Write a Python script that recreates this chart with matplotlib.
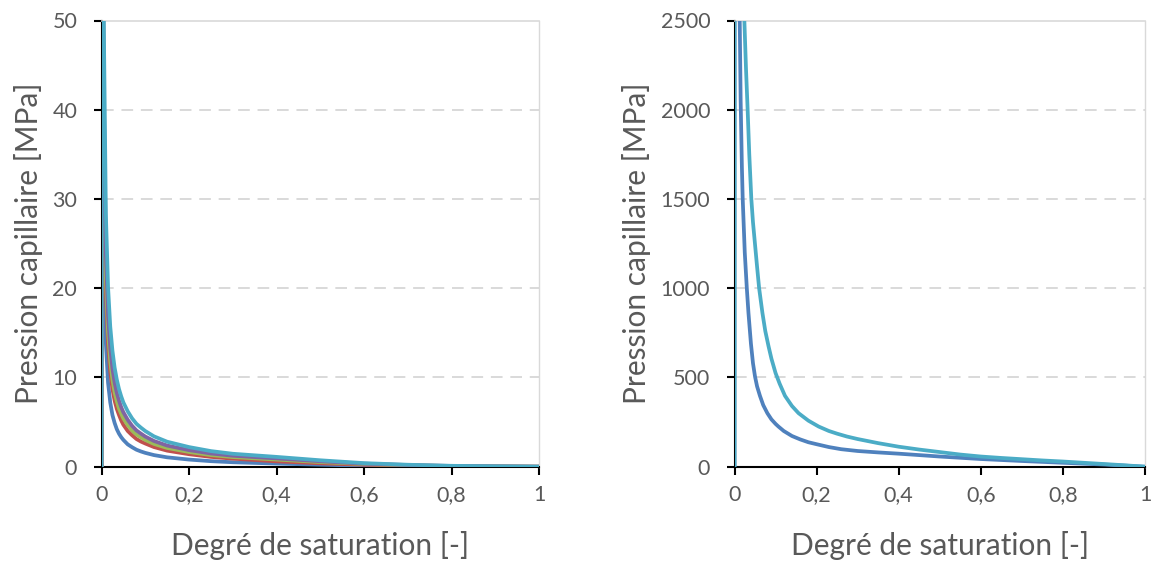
import matplotlib
matplotlib.use("Agg")
import matplotlib.pyplot as plt

plt.rcParams['font.family'] = ['Lato', 'DejaVu Sans']

# ---------------- data ----------------
# Left panel (0-50 MPa)
s_left = [0, 0.001, 0.002, 0.003, 0.005, 0.01, 0.015, 0.02, 0.025, 0.03, 0.035,
          0.04, 0.045, 0.05, 0.06, 0.07, 0.08, 0.09, 0.1, 0.12, 0.15, 0.2, 0.25,
          0.3, 0.4, 0.5, 0.6, 0.7, 0.8, 0.9, 1.0]
pc_left_blue = [0, 123, 63.8, 43.4, 26.7, 13.8, 9.4, 7.2, 5.79, 4.9, 4.2, 3.7,
                3.31, 3.0, 2.5, 2.18, 1.9, 1.71, 1.55, 1.3, 1.05, 0.8, 0.62,
                0.5, 0.35, 0.22, 0.12, 0.06, 0.03, 0.01, 0]
pc_left_red = [0, 148, 80.4, 56.3, 35.9, 19.5, 13.7, 10.6, 8.71, 7.4, 6.48, 5.8,
               5.19, 4.7, 4.0, 3.52, 3.1, 2.82, 2.6, 2.2, 1.8, 1.4, 1.1,
               0.9, 0.6, 0.38, 0.22, 0.12, 0.05, 0.02, 0]
pc_left_green = [0, 150, 83.3, 59.1, 38.3, 21.2, 15.1, 11.8, 9.75, 8.3, 7.32, 6.5,
                 5.92, 5.4, 4.65, 4.06, 3.6, 3.29, 3.0, 2.55, 2.1, 1.65, 1.3,
                 1.08, 0.8, 0.52, 0.3, 0.16, 0.07, 0.03, 0]
pc_left_purple = [0, 169, 94, 66.7, 43.1, 23.9, 17.0, 13.3, 11.0, 9.4, 8.26, 7.4,
                  6.67, 6.1, 5.25, 4.58, 4.06, 3.71, 3.38, 2.88, 2.37, 1.86, 1.48,
                  1.23, 0.93, 0.61, 0.34, 0.19, 0.085, 0.035, 0]
pc_left_cyan = [0, 200, 111, 78.8, 51, 28.3, 20.1, 15.7, 13.0, 11.1, 9.76, 8.7,
                7.89, 7.2, 6.2, 5.41, 4.8, 4.38, 4.0, 3.4, 2.8, 2.2, 1.75,
                1.45, 1.1, 0.72, 0.4, 0.22, 0.1, 0.04, 0]

# Right panel (0-2500 MPa)
s_right_blue = [0, 0.002, 0.005, 0.008, 0.01, 0.012, 0.015, 0.018, 0.02, 0.025,
                0.03, 0.034, 0.04, 0.045, 0.05, 0.055, 0.062, 0.07, 0.08, 0.09,
                0.1, 0.107, 0.12, 0.14, 0.16, 0.18, 0.2, 0.23, 0.26, 0.3,
                0.35, 0.4, 0.5, 0.6, 0.7, 0.8, 0.9, 0.95, 1.0]
pc_right_blue = [0, 25000, 7500, 4300, 3300, 2650, 2050, 1680, 1500, 1200,
                 1000, 862, 690, 580, 505, 450, 397, 345, 300, 265,
                 240, 225, 200, 172, 153, 137, 126, 110, 98, 88,
                 80, 73, 57, 43, 32, 22, 12, 6, 0]
s_right_cyan = [0, 0.002, 0.005, 0.008, 0.01, 0.012, 0.015, 0.018, 0.02, 0.024,
                0.028, 0.032, 0.036, 0.041, 0.045, 0.049, 0.055, 0.06, 0.068, 0.075,
                0.083, 0.09, 0.1, 0.11, 0.123, 0.14, 0.156, 0.18, 0.205, 0.23,
                0.25, 0.274, 0.3, 0.35, 0.4, 0.45, 0.5, 0.55, 0.6, 0.65,
                0.7, 0.75, 0.8, 0.85, 0.9, 0.95, 1.0]
pc_right_cyan = [0, 40000, 12000, 7300, 5800, 4800, 3850, 3250, 2950, 2500,
                 2230, 2000, 1750, 1500, 1370, 1270, 1120, 1000, 862, 760,
                 674, 605, 525, 465, 397, 340, 300, 258, 225, 200,
                 185, 169, 155, 132, 112, 96, 82, 68, 57, 49,
                 42, 35, 29, 22, 15, 8, 0]

left_yticks = [0, 10, 20, 30, 40, 50]
right_yticks = [0, 500, 1000, 1500, 2000, 2500]
xticks = [0, 0.2, 0.4, 0.6, 0.8, 1.0]
xtick_labels = ["0", "0,2", "0,4", "0,6", "0,8", "1"]
xlabel = "Degré de saturation [-]"
ylabel = "Pression capillaire [MPa]"

# ---------------- style ----------------
C_BLUE = "#4F81BD"
C_RED = "#C0504D"
C_GREEN = "#9BBB59"
C_PURPLE = "#8064A2"
C_CYAN = "#4BACC6"
TXT = "#595959"
GRID = "#D9D9D9"
LW = 2.7

fig = plt.figure(figsize=(11.53, 5.63), dpi=100)
ax1 = fig.add_axes([101.5 / 1153, 96.3 / 563, 437.5 / 1153, 446.2 / 563])
ax2 = fig.add_axes([734.5 / 1153, 96.3 / 563, 410.5 / 1153, 446.2 / 563])


def style(ax, yticks):
    ax.set_xlim(0, 1)
    ax.set_ylim(yticks[0], yticks[-1])
    ax.set_xticks(xticks)
    ax.set_xticklabels(xtick_labels)
    ax.set_yticks(yticks)
    ax.set_yticklabels([str(v) for v in yticks])
    for v in yticks[1:-1]:
        ax.axhline(v, color=GRID, lw=1.4, ls=(0, (6, 4)), zorder=1)
    ax.spines['left'].set_color('black')
    ax.spines['bottom'].set_color('black')
    ax.spines['left'].set_linewidth(1.5)
    ax.spines['bottom'].set_linewidth(1.5)
    ax.spines['top'].set_color(GRID)
    ax.spines['right'].set_color(GRID)
    ax.spines['top'].set_linewidth(1.2)
    ax.spines['right'].set_linewidth(1.0)
    ax.tick_params(axis='both', direction='out', length=6, width=1.5,
                   color='black', labelcolor=TXT, labelsize=15.5)
    ax.tick_params(axis='x', pad=7)
    ax.tick_params(axis='y', pad=11.5)
    ax.set_xlabel(xlabel, color=TXT, fontsize=21.5, labelpad=19)
    ax.set_ylabel(ylabel, color=TXT, fontsize=21.5, labelpad=7)


style(ax1, left_yticks)
style(ax2, right_yticks)

for vals, col in [(pc_left_blue, C_BLUE), (pc_left_red, C_RED),
                  (pc_left_green, C_GREEN), (pc_left_purple, C_PURPLE),
                  (pc_left_cyan, C_CYAN)]:
    ax1.plot(s_left, vals, color=col, lw=LW, zorder=3, solid_joinstyle='round')

ax2.plot(s_right_blue, pc_right_blue, color=C_BLUE, lw=LW, zorder=3,
         solid_joinstyle='round')
ax2.plot(s_right_cyan, pc_right_cyan, color=C_CYAN, lw=LW, zorder=3,
         solid_joinstyle='round')

fig.savefig("out.png", dpi=100)
